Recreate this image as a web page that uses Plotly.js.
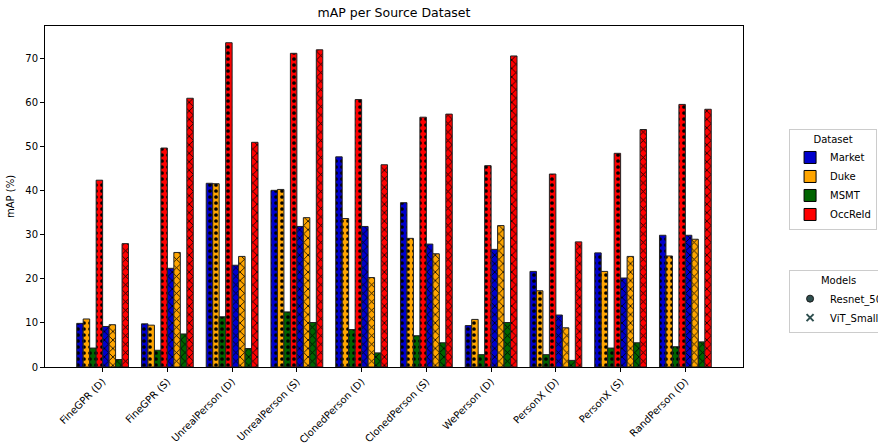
<!DOCTYPE html>
<html>
<head>
<meta charset="utf-8">
<script src="https://cdn.plot.ly/plotly-3.0.1.min.js"></script>
<style>html,body{margin:0;padding:0;background:#fff;overflow:hidden;}#chart{width:900px;height:444px;}</style>
</head>
<body>
<div id="chart"></div>
<script>
const categories = ["FineGPR (D)","FineGPR (S)","UnrealPerson (D)","UnrealPerson (S)","ClonedPerson (D)","ClonedPerson (S)","WePerson (D)","PersonX (D)","PersonX (S)","RandPerson (D)"];
const datasets = ["Market","Duke","MSMT","OccReId"];
const models = ["Resnet_50","ViT_Small"];

// Resnet_50 mAP per target dataset
const resnetMarket  = [9.9, 9.8, 41.7, 40.1, 47.7, 37.3, 9.4, 21.7, 25.9, 29.9];
const resnetDuke    = [10.9, 9.5, 41.6, 40.3, 33.7, 29.2, 10.8, 17.3, 21.7, 25.2];
const resnetMSMT    = [4.3, 3.8, 11.4, 12.5, 8.5, 7.1, 2.8, 2.8, 4.3, 4.6];
const resnetOccReId = [42.4, 49.7, 73.6, 71.2, 60.7, 56.7, 45.7, 43.8, 48.5, 59.6];
// ViT_Small mAP per target dataset
const vitMarket  = [9.2, 22.4, 23.1, 31.9, 31.9, 27.9, 26.7, 11.8, 20.2, 29.9];
const vitDuke    = [9.6, 26.0, 25.1, 33.9, 20.3, 25.7, 32.1, 8.9, 25.1, 29.0];
const vitMSMT    = [1.7, 7.5, 4.2, 10.1, 3.2, 5.5, 10.1, 1.5, 5.5, 5.7];
const vitOccReId = [28.0, 61.0, 51.0, 72.0, 45.9, 57.4, 70.6, 28.4, 53.9, 58.5];

const colors = ["#0000cc","#ffa500","#006400","#ff0000"];
const seriesByModel = [
  [resnetMarket, resnetDuke, resnetMSMT, resnetOccReId],
  [vitMarket, vitDuke, vitMSMT, vitOccReId]
];
const patterns = [".", "x"];
const W = 0.1;

const traces = [];
for (let m = 0; m < 2; m++) {
  for (let d = 0; d < 4; d++) {
    const idx = m * 4 + d;
    traces.push({
      type: "bar",
      x: categories,
      y: seriesByModel[m][d],
      name: datasets[d] + " " + models[m],
      showlegend: false,
      width: W,
      offset: (idx - 4) * W,
      marker: {
        color: colors[d],
        line: {color: "#222", width: 1},
        pattern: {shape: patterns[m], fgcolor: "#000", fgopacity: 1, bgcolor: colors[d], fillmode: "overlay", size: 6, solidity: m === 0 ? 0.3 : 0.25}
      },
      hoverinfo: "x+y+name"
    });
  }
}
// Dataset legend entries
for (let d = 0; d < 4; d++) {
  traces.push({
    type: "bar", x: [null], y: [null], name: datasets[d],
    marker: {color: colors[d], line: {color: "#000", width: 1}},
    legend: "legend", showlegend: true
  });
}
// Models legend entries
const modelSymbols = ["circle", "x-thin-open"];
for (let m = 0; m < 2; m++) {
  traces.push({
    type: "scatter", mode: "markers", x: [null], y: [null], name: models[m],
    marker: {symbol: modelSymbols[m], size: 7, color: "#2f4f4f", line: {color: m === 0 ? "#1a1a1a" : "#2f4f4f", width: m === 0 ? 1 : 2}},
    legend: "legend2", showlegend: true
  });
}

const font = {family: "DejaVu Sans, sans-serif", size: 10, color: "#000"};
const layout = {
  width: 900, height: 444,
  margin: {l: 45, r: 144, t: 26, b: 77},
  paper_bgcolor: "#fff", plot_bgcolor: "#fff",
  font: font,
  barmode: "overlay",
  title: {text: "mAP per Source Dataset", font: {family: "DejaVu Sans, sans-serif", size: 12.5, color: "#000"}, x: 0.5, xref: "paper", y: 0.982, yanchor: "top"},
  xaxis: {
    type: "category", range: [-0.89, 9.89],
    tickangle: -45, ticks: "outside", ticklen: 4, tickcolor: "#000",
    showline: true, linecolor: "#000", linewidth: 1, mirror: true,
    showgrid: false, zeroline: false, tickfont: font
  },
  yaxis: {
    range: [0, 77.4], tickvals: [0,10,20,30,40,50,60,70],
    ticks: "outside", ticklen: 4, tickcolor: "#000",
    showline: true, linecolor: "#000", linewidth: 1, mirror: true,
    showgrid: false, zeroline: false, tickfont: font,
    title: {text: "mAP (%)", font: font, standoff: 8}
  },
  legend: {
    x: 1.066, y: 0.698, xanchor: "left", yanchor: "top",
    bordercolor: "#cccccc", borderwidth: 1, bgcolor: "#fff",
    title: {text: "Dataset", side: "top center", font: font},
    font: font, itemclick: false, tracegroupgap: 0, itemwidth: 30
  },
  legend2: {
    x: 1.066, y: 0.284, xanchor: "left", yanchor: "top",
    bordercolor: "#cccccc", borderwidth: 1, bgcolor: "#fff",
    title: {text: "Models", side: "top center", font: font},
    font: font, itemclick: false, tracegroupgap: 0, itemwidth: 30
  }
};
Plotly.newPlot("chart", traces, layout, {displayModeBar: false, staticPlot: true});
</script>
</body>
</html>
